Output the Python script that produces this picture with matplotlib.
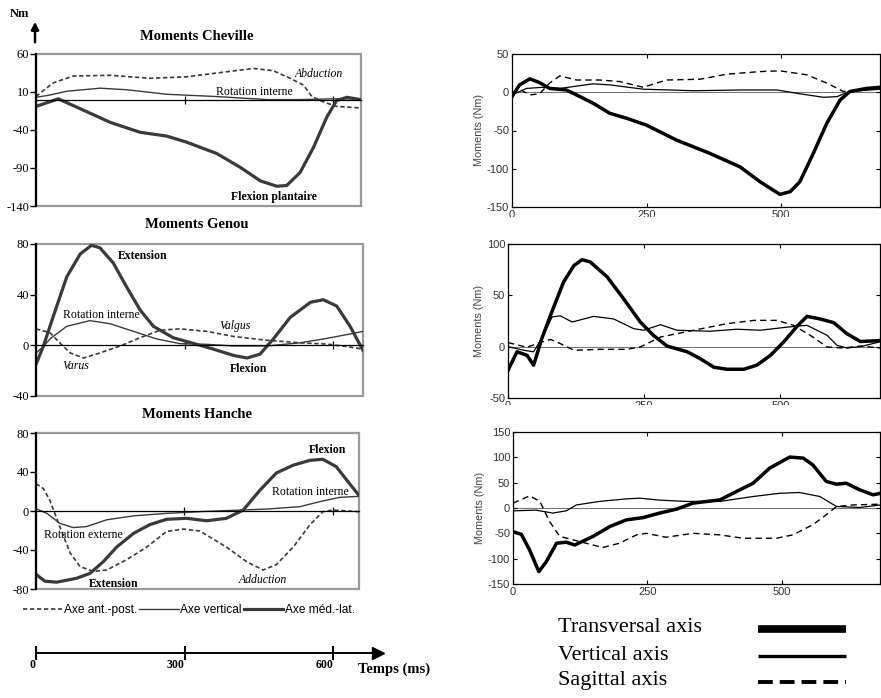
import matplotlib
matplotlib.use('Agg')
import matplotlib.pyplot as plt
from matplotlib.lines import Line2D
from matplotlib.patches import Rectangle, FancyArrowPatch

plt.rcParams['font.family'] = ['Liberation Serif', 'DejaVu Serif']
plt.rcParams['axes.unicode_minus'] = False

# ---- left column (ms, Nm) ----
chev_t_ml = [0, 45, 96, 150, 210, 264, 304, 365, 412, 453, 486, 506, 533, 560, 587, 607, 628, 655]
chev_v_ml = [-9, 1, -14, -30, -43, -48, -56, -71, -89, -107, -114, -113, -96, -63, -23, -1, 3, 0]
chev_t_ap = [0, 15, 35, 75, 150, 230, 304, 365, 439, 479, 513, 540, 557, 580, 607, 655]
chev_v_ap = [4, 12, 22, 31, 32, 28, 30, 35, 41, 38, 28, 19, 4, -3, -9, -11]
chev_t_vt = [0, 28, 62, 129, 183, 264, 365, 466, 533, 600, 655]
chev_v_vt = [3, 6, 11, 15, 13, 7, 4, 0, 0, 1, 1]

gen_t_ml = [0, 15, 35, 62, 89, 112, 129, 156, 183, 210, 237, 277, 318, 358, 399, 426, 452, 479, 513, 554, 580, 607, 634, 660]
gen_v_ml = [-15, -0.5, 23, 54, 72, 79, 77, 65, 46, 28, 15, 6, 1.5, -3, -8, -10, -7, 5, 22, 34, 36, 31, 15, -4]
gen_t_vt = [0, 15, 28, 62, 109, 150, 197, 244, 291, 345, 399, 466, 533, 580, 621, 660]
gen_v_vt = [-6, -1, 5, 15, 19.5, 17, 11, 5, 1.3, 0.8, -0.5, -0.5, 2, 5, 8, 11]
gen_t_ap = [0, 28, 48, 69, 96, 129, 170, 210, 251, 291, 345, 399, 466, 533, 587, 628, 660]
gen_v_ap = [13, 10, 2, -6, -10, -6, -0.5, 6, 12, 13, 11, 7, 4, 2, 1, -1, -3]

han_t_ml = [0, 18, 42, 82, 109, 136, 163, 197, 230, 264, 304, 345, 385, 419, 453, 486, 520, 554, 580, 607, 634, 653]
han_v_ml = [-65, -72, -73, -69, -64, -52, -37, -23, -14, -8.5, -7.5, -10, -7.5, 1, 21.5, 39, 47, 52, 53, 45.5, 28, 16]
han_t_vt = [0, 22, 48, 75, 102, 143, 197, 264, 331, 399, 466, 533, 574, 614, 653]
han_v_vt = [2.4, -2.4, -12.6, -17, -16, -9, -5, -2.4, -0.7, 0.7, 2, 4.4, 9.6, 14, 15]
han_t_ap = [0, 15, 28, 48, 69, 89, 116, 143, 183, 224, 264, 298, 331, 385, 426, 459, 486, 520, 554, 580, 600, 653]
han_v_ap = [28, 23, 11, -16, -43, -57, -62, -60.5, -50, -37, -21, -18.5, -20.5, -37, -52, -60.5, -55, -37, -14, -0.7, 1, -0.7]

# ---- right column ----
r1_t_tr = [0, 14, 33, 51, 70, 101, 120, 151, 182, 213, 250, 306, 368, 424, 461, 498, 517, 535, 560, 585, 610, 628, 659, 685]
r1_v_tr = [-5.7, 9.6, 17.5, 12.7, 5, 3, -3.5, -14.4, -27.6, -34, -43, -62.6, -80, -97.6, -117, -133.5, -130, -117, -80, -40.7, -10, 1, 5, 6.5]
r1_t_vt = [0, 27, 58, 89, 151, 182, 244, 337, 430, 492, 535, 579, 604, 628, 685]
r1_v_vt = [-3.5, 5, 6.5, 5, 11, 9.6, 4, 2, 3, 3, -2, -6.6, -5.7, 1, 4]
r1_t_sg = [0, 14, 33, 51, 70, 89, 120, 163, 200, 244, 287, 349, 399, 461, 498, 548, 585, 616, 685]
r1_v_sg = [-1.3, 4, -3.5, -2, 12, 21.4, 16, 16, 14, 6.5, 16, 17, 23.6, 27, 28, 22.8, 12, 1, 5]

r2_t_tr = [0, 16.5, 35, 47, 62, 78, 102, 121, 136, 151, 182, 212, 243, 267, 292, 329, 353, 378, 402, 433, 457, 482, 506, 531, 549, 573, 598, 622, 647, 685]
r2_v_tr = [-23, -5, -8.4, -18, 7.8, 30.5, 63, 79, 84.7, 82.5, 68, 46.8, 24, 11, 0.6, -5, -11.7, -20, -22, -22, -18, -8.4, 4.5, 20, 29.5, 27, 23.4, 12.7, 5, 6]
r2_t_vt = [0, 29, 47, 65, 81, 96, 118, 157, 194, 231, 249, 280, 310, 371, 420, 463, 512, 549, 586, 604, 622, 647, 685]
r2_v_vt = [0, -3.5, -5, 11, 29, 30, 24, 29.5, 27, 17.5, 16, 21.4, 16, 15, 17, 16, 19, 20.8, 11, 1.3, -1.3, 0, 5]
r2_t_sg = [0, 35, 59, 78, 96, 121, 170, 218, 243, 280, 341, 402, 451, 494, 524, 555, 586, 616, 647, 685]
r2_v_sg = [4, -0.6, 4, 7, 3, -3.5, -2.6, -2.6, -0.3, 9.4, 16, 22.4, 25.6, 25.6, 20.8, 11, -0.3, -1.3, 0.6, -1.3]

r3_t_tr = [0, 15.5, 31, 48, 62, 81, 99, 115, 149, 180, 211, 242, 273, 304, 335, 385, 416, 447, 478, 515, 540, 558, 583, 602, 620, 645, 670, 684]
r3_v_tr = [-46.5, -52, -83, -125.5, -106, -69.5, -67.5, -73, -56, -36.6, -23.4, -19, -10, -2.3, 9.6, 16, 32.6, 49, 79, 100.5, 98.5, 85, 52.4, 47, 49, 36, 26, 29]
r3_t_vt = [0, 43, 74, 99, 118, 161, 211, 236, 273, 323, 385, 447, 496, 533, 571, 602, 645, 684]
r3_v_vt = [-5.6, -4.3, -10, -5.6, 6, 13, 18, 19.4, 15.5, 13, 13, 22.7, 29, 30.6, 22.7, 3, 1, 6]
r3_t_sg = [0, 31, 50, 68, 87, 112, 136, 167, 198, 230, 248, 285, 335, 385, 428, 490, 521, 558, 583, 602, 633, 684]
r3_v_sg = [9.6, 24, 13, -26.7, -56, -63, -69.5, -78, -69.5, -53, -50, -57.7, -50, -53, -59.7, -59.7, -53, -33, -13.5, 3, 6, 7.6]

left_labels = ['Axe ant.-post.', 'Axe vertical', 'Axe méd.-lat.']
right_labels = ['Transversal axis', 'Vertical axis', 'Sagittal axis']
time_ticks = [0, 300, 600]

W, H = 881, 698
fig = plt.figure(figsize=(W / 100, H / 100), dpi=100)


def frac(x0, y0, x1, y1):
    # pixel box -> figure fraction rect
    return [x0 / W, 1 - y1 / H, (x1 - x0) / W, (y1 - y0) / H]


LC = '#3a3a3a'


def left_panel(rect, xmax, ylim, yticks, title, ty, t_ap, v_ap, t_vt, v_vt, t_ml, v_ml):
    ax = fig.add_axes(rect)
    ax.set_xlim(0, xmax)
    ax.set_ylim(*ylim)
    ax.add_patch(Rectangle((0, 0), 1, 1, transform=ax.transAxes, fill=False,
                           ec='#9a9a9a', lw=1.6, clip_on=False, zorder=0.5))
    for s in ['top', 'right']:
        ax.spines[s].set_visible(False)
    ax.spines['left'].set_linewidth(1.6)
    ax.spines['bottom'].set_position(('data', 0))
    ax.spines['bottom'].set_linewidth(0.9)
    ax.set_xticks([300, 600])
    ax.tick_params(axis='x', direction='inout', length=6, width=0.9, labelbottom=False)
    ax.set_yticks(yticks)
    ax.set_yticklabels([str(v) for v in yticks])
    ax.tick_params(axis='y', direction='out', length=4, width=1, labelsize=9, pad=1)
    l1, = ax.plot(t_ap, v_ap, color=LC, lw=1.2, dashes=(2.6, 1.6), label=left_labels[0])
    l2, = ax.plot(t_vt, v_vt, color=LC, lw=1.0, label=left_labels[1])
    l3, = ax.plot(t_ml, v_ml, color=LC, lw=2.3, label=left_labels[2])
    fig.text(197 / W, 1 - ty / H, title, fontsize=10.5, fontweight='bold', ha='center', va='center')
    return ax, [l1, l2, l3]


def right_panel(rect, xmax, ylim, yticks, t_tr, v_tr, t_vt, v_vt, t_sg, v_sg):
    ax = fig.add_axes(rect)
    ax.set_xlim(0, xmax)
    ax.set_ylim(*ylim)
    ax.set_xticks([0, 250, 500])
    ax.set_yticks(yticks)
    ax.tick_params(direction='in', top=True, right=True, length=3, width=0.8,
                   labelsize=8, labelcolor='#333333', pad=2)
    for lab in ax.get_xticklabels() + ax.get_yticklabels():
        lab.set_family('Liberation Sans')
    for s in ax.spines.values():
        s.set_linewidth(0.9)
    ax.axhline(0, color='#777777', lw=0.8, zorder=1)
    ax.plot(t_sg, v_sg, color='black', lw=1.0, dashes=(4.5, 3), zorder=2)
    ax.plot(t_vt, v_vt, color='black', lw=0.9, zorder=2)
    ax.plot(t_tr, v_tr, color='black', lw=2.5, zorder=3)
    ax.set_ylabel('Moments (Nm)', fontsize=7.8, color='#444444', family='Liberation Sans', labelpad=2)
    return ax


# left column
ax1, _ = left_panel(frac(36, 54, 361, 206), 656, (-140, 60), [60, 10, -40, -90, -140],
                    'Moments Cheville', 37, chev_t_ap, chev_v_ap, chev_t_vt, chev_v_vt, chev_t_ml, chev_v_ml)
ax1.text(570, 34, 'Abduction', fontsize=8.5, style='italic', ha='center', va='center')
ax1.text(440, 10.5, 'Rotation interne', fontsize=8.5, ha='center', va='center')
ax1.text(481, -128, 'Flexion plantaire', fontsize=8.5, fontweight='bold', ha='center', va='center')

ax2, _ = left_panel(frac(36, 244, 363, 396), 660, (-40, 80), [80, 40, 0, -40],
                    'Moments Genou', 225, gen_t_ap, gen_v_ap, gen_t_vt, gen_v_vt, gen_t_ml, gen_v_ml)
ax2.text(215, 70.5, 'Extension', fontsize=8.5, fontweight='bold', ha='center', va='center')
ax2.text(131, 24, 'Rotation interne', fontsize=8.5, ha='center', va='center')
ax2.text(401, 15.3, 'Valgus', fontsize=8.5, style='italic', ha='center', va='center')
ax2.text(81, -16.3, 'Varus', fontsize=8.5, style='italic', ha='center', va='center')
ax2.text(429, -18.7, 'Flexion', fontsize=8.5, fontweight='bold', ha='center', va='center')

ax3, handles = left_panel(frac(36, 433, 359, 589), 653, (-80, 80), [80, 40, 0, -40, -80],
                          'Moments Hanche', 415, han_t_ap, han_v_ap, han_t_vt, han_v_vt, han_t_ml, han_v_ml)
ax3.text(590, 62.6, 'Flexion', fontsize=8.5, fontweight='bold', ha='center', va='center')
ax3.text(555, 19.5, 'Rotation interne', fontsize=8.5, ha='center', va='center')
ax3.text(95, -24.6, 'Rotation externe', fontsize=8.5, ha='center', va='center')
ax3.text(157, -75, 'Extension', fontsize=8.5, fontweight='bold', ha='center', va='center')
ax3.text(458, -70.8, 'Adduction', fontsize=8.5, style='italic', ha='center', va='center')

fig.legend(handles, left_labels, loc='center', bbox_to_anchor=(189 / W, 1 - 610 / H), ncol=3,
           frameon=False, handlelength=3.3, handletextpad=0.15, columnspacing=0.15,
           prop={'family': 'Liberation Sans', 'size': 8.6})

# time axis
ax_t = fig.add_axes(frac(36, 652, 378, 654))
ax_t.set_xlim(0, (378 - 36) * 300 / 148.5)
ax_t.set_ylim(-1, 1)
for s in ['top', 'right', 'left']:
    ax_t.spines[s].set_visible(False)
ax_t.spines['bottom'].set_position(('data', 0))
ax_t.spines['bottom'].set_linewidth(1.4)
ax_t.set_yticks([])
ax_t.set_xticks(time_ticks)
ax_t.set_xticklabels([str(v) for v in time_ticks], fontweight='bold', fontsize=8.5)
ax_t.tick_params(axis='x', direction='inout', length=10, width=1.5, pad=-1)
for lab in ax_t.get_xticklabels():
    lab.set_ha('right')
ax_t.plot([1], [0.5], marker='>', color='black', markersize=9, transform=ax_t.transAxes, clip_on=False)
fig.text(358 / W, 1 - 669 / H, 'Temps (ms)', fontsize=10.5, fontweight='bold', ha='left', va='center')

# Nm + vertical arrow
fig.text(10 / W, 1 - 14 / H, 'Nm', fontsize=9, fontweight='bold', ha='left', va='center')
fig.add_artist(FancyArrowPatch((35 / W, 1 - 45 / H), (35 / W, 1 - 19 / H),
                               transform=fig.transFigure, arrowstyle='-|>',
                               mutation_scale=11, lw=1.8, color='black'))

# right column
right_panel(frac(512, 54, 880, 207), 684, (-150, 50), [50, 0, -50, -100, -150],
            r1_t_tr, r1_v_tr, r1_t_vt, r1_v_vt, r1_t_sg, r1_v_sg)
right_panel(frac(508, 244, 880, 398), 683, (-50, 100), [100, 50, 0, -50],
            r2_t_tr, r2_v_tr, r2_t_vt, r2_v_vt, r2_t_sg, r2_v_sg)
right_panel(frac(513, 432, 880, 584), 683, (-150, 150), [150, 100, 50, 0, -50, -100, -150],
            r3_t_tr, r3_v_tr, r3_t_vt, r3_v_vt, r3_t_sg, r3_v_sg)

# the source panels were cropped through their x tick labels
for y0, y1 in [(217, 239), (405, 427)]:
    fig.add_artist(Rectangle((462 / W, 1 - y1 / H), (W - 462) / W, (y1 - y0) / H,
                             transform=fig.transFigure, fc='white', ec='none', zorder=10))

# right legend
leg_y = [628, 655, 681]
leg_lw = [5.5, 2.4, 2.8]
for lab, y, lw, i in zip(right_labels, leg_y, leg_lw, range(3)):
    fig.text(558 / W, 1 - y / H, lab, fontsize=16, ha='left', va='center')
    ln = Line2D([758 / W, 846 / W], [1 - (y + 1) / H] * 2, transform=fig.transFigure,
                color='black', lw=lw, solid_capstyle='butt', dash_capstyle='butt')
    if i == 2:
        ln.set_dashes((3.8, 1.8))
    fig.add_artist(ln)

fig.savefig('out.png', dpi=100)
